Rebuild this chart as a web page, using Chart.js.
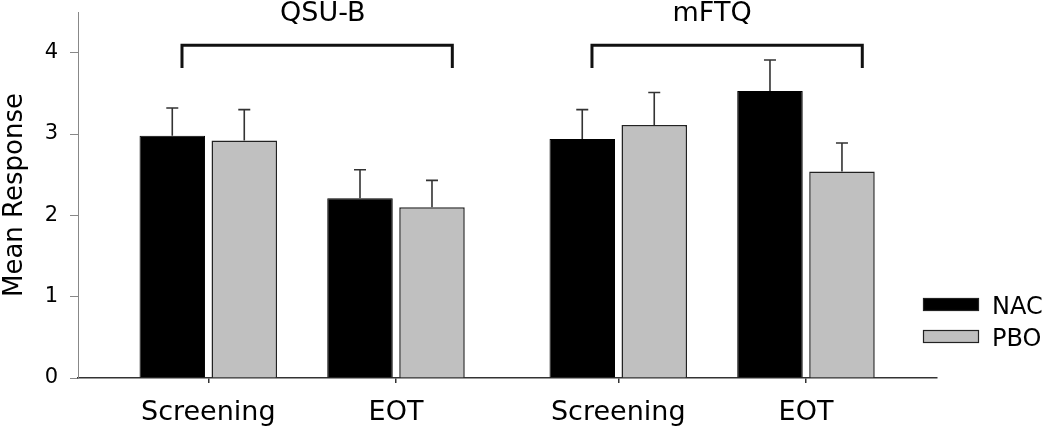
<!DOCTYPE html>
<html>
<head>
<meta charset="utf-8">
<script src="https://cdn.jsdelivr.net/npm/chart.js@4/dist/chart.umd.min.js"></script>
<style>
  html, body { margin: 0; padding: 0; background: #ffffff; }
  #wrap { width: 1050px; height: 433px; }
</style>
</head>
<body>
<div id="wrap"><canvas id="c" width="1050" height="433"></canvas></div>
<script>
// ---- data ----
const categories = ['Screening', 'EOT', 'Screening', 'EOT'];
const categoryGroup = [0, 0, 1, 1];
const groupLabels = ['QSU-B', 'mFTQ'];
const seriesNames = ['NAC', 'PBO'];
const nacMeans = [2.98, 2.21, 2.94, 3.53];
const nacErrors = [0.34, 0.35, 0.36, 0.38];
const pboMeans = [2.92, 2.10, 3.11, 2.54];
const pboErrors = [0.38, 0.33, 0.40, 0.35];
const yTicks = [0, 1, 2, 3, 4];

// ---- layout ----
const GROUP_GAP = 0.184;
const catPos = categories.map((c, i) => i + categoryGroup[i] * GROUP_GAP);
const FONT = "'DejaVu Sans', 'Liberation Sans', Arial, sans-serif";

const toPoints = (vals) => vals.map((v, i) => ({ x: catPos[i], y: v }));

const errorBarPlugin = {
  id: 'errorBars',
  afterDatasetsDraw(chart) {
    const ctx = chart.ctx;
    const yScale = chart.scales.y;
    chart.data.datasets.forEach((ds, di) => {
      const meta = chart.getDatasetMeta(di);
      meta.data.forEach((bar, i) => {
        const top = yScale.getPixelForValue(ds.data[i].y + ds.errors[i]);
        ctx.save();
        ctx.strokeStyle = '#333333';
        ctx.lineWidth = 1.6;
        ctx.beginPath();
        ctx.moveTo(bar.x, bar.y);
        ctx.lineTo(bar.x, top);
        ctx.moveTo(bar.x - 6, top);
        ctx.lineTo(bar.x + 6, top);
        ctx.stroke();
        ctx.restore();
      });
    });
  }
};

const bracketPlugin = {
  id: 'brackets',
  afterDraw(chart) {
    const ctx = chart.ctx;
    const xs = chart.scales.x, ys = chart.scales.y;
    const labelShift = [0.11, 0];
    groupLabels.forEach((g, gi) => {
      const idx = categoryGroup.map((v, i) => v === gi ? i : -1).filter(i => i >= 0);
      const first = catPos[idx[0]], last = catPos[idx[idx.length - 1]];
      const x1 = xs.getPixelForValue(first - 0.14);
      const x2 = xs.getPixelForValue(last + 0.30);
      const yTop = ys.getPixelForValue(4.09);
      const yLeg = ys.getPixelForValue(3.81);
      ctx.save();
      ctx.strokeStyle = '#111111';
      ctx.lineWidth = 3;
      ctx.lineCap = 'butt';
      ctx.lineJoin = 'miter';
      ctx.beginPath();
      ctx.moveTo(x1, yLeg);
      ctx.lineTo(x1, yTop);
      ctx.lineTo(x2, yTop);
      ctx.lineTo(x2, yLeg);
      ctx.stroke();
      ctx.fillStyle = '#000000';
      ctx.font = '27px ' + FONT;
      ctx.textAlign = 'center';
      ctx.textBaseline = 'alphabetic';
      const mid = (first + last) / 2 + labelShift[gi];
      ctx.fillText(g, xs.getPixelForValue(mid), 20.5);
      ctx.restore();
    });
  }
};

const legendPlugin = {
  id: 'customLegend',
  afterDraw(chart) {
    const ctx = chart.ctx;
    ctx.save();
    chart.data.datasets.forEach((ds, i) => {
      const bx = 923, by = 298 + i * 32, bw = 56, bh = 13;
      ctx.fillStyle = ds.backgroundColor;
      ctx.fillRect(bx, by, bw, bh);
      ctx.strokeStyle = '#222222';
      ctx.lineWidth = 1.2;
      ctx.strokeRect(bx + 0.5, by + 0.5, bw - 1, bh - 1);
      ctx.fillStyle = '#000000';
      ctx.font = '24px ' + FONT;
      ctx.textAlign = 'left';
      ctx.textBaseline = 'alphabetic';
      ctx.fillText(ds.label, 992, by + 15.5);
    });
    ctx.restore();
  }
};

new Chart(document.getElementById('c'), {
  type: 'bar',
  data: {
    datasets: [
      { label: seriesNames[0], data: toPoints(nacMeans), errors: nacErrors,
        backgroundColor: '#000000', borderColor: '#000000', borderWidth: 1 },
      { label: seriesNames[1], data: toPoints(pboMeans), errors: pboErrors,
        backgroundColor: '#c0c0c0', borderColor: '#222222', borderWidth: 1.5 }
    ]
  },
  options: {
    responsive: false,
    animation: false,
    devicePixelRatio: 1,
    categoryPercentage: 0.767,
    barPercentage: 0.91,
    layout: { padding: { top: 12, right: 113, left: 0, bottom: 0 } },
    plugins: { legend: { display: false }, tooltip: { enabled: false } },
    scales: {
      x: {
        type: 'linear',
        offset: false,
        min: -0.694,
        max: 3.882,
        afterBuildTicks: (s) => { s.ticks = catPos.map(v => ({ value: v })); },
        afterFit: (s) => { s.height = 55; s.paddingLeft = 0; s.paddingRight = 0; },
        ticks: {
          autoSkip: false,
          maxRotation: 0,
          padding: 14,
          color: '#000000',
          font: { family: FONT, size: 27 },
          callback: (v, i) => categories[i]
        },
        grid: { offset: false, drawOnChartArea: false, drawTicks: true, tickLength: 5, color: '#333333', lineWidth: 1.5 },
        border: { display: true, color: '#333333', width: 1.5 }
      },
      y: {
        min: 0,
        max: 4.5,
        afterBuildTicks: (s) => { s.ticks = yTicks.map(v => ({ value: v })); },
        afterFit: (s) => { s.width = 78; s.paddingTop = 0; s.paddingBottom = 0; },
        ticks: {
          padding: 12,
          color: '#000000',
          font: { family: FONT, size: 21 },
          callback: (v) => String(v)
        },
        grid: { drawOnChartArea: false, drawTicks: true, tickLength: 8, color: '#888888', lineWidth: 1 },
        border: { display: true, color: '#888888', width: 1 },
        title: {
          display: true,
          text: 'Mean Response',
          color: '#000000',
          padding: 0,
          font: { family: FONT, size: 26 }
        }
      }
    }
  },
  plugins: [errorBarPlugin, bracketPlugin, legendPlugin]
});
</script>
</body>
</html>
